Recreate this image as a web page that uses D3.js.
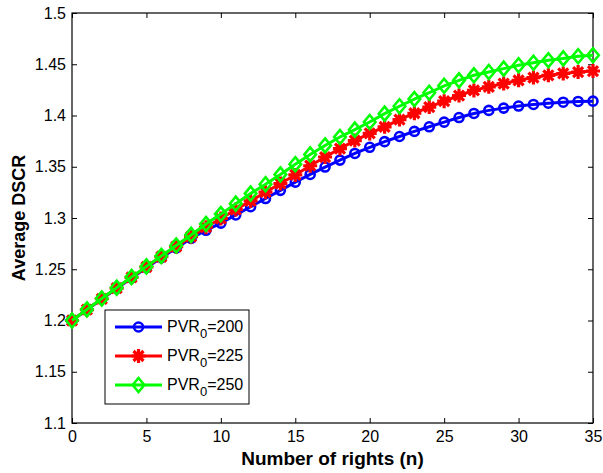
<!DOCTYPE html>
<html><head><meta charset="utf-8">
<script src="https://cdn.jsdelivr.net/npm/d3@7"></script>
<style>body{margin:0;background:#fff}svg{display:block}</style>
</head><body>
<script>
const nValues = d3.range(0, 36);
const pvr200 = [1.2000,1.2105,1.2210,1.2312,1.2415,1.2515,1.2612,1.2708,1.2800,1.2880,1.2950,1.3030,1.3110,1.3190,1.3270,1.3350,1.3425,1.3497,1.3565,1.3630,1.3690,1.3745,1.3795,1.3845,1.3890,1.3935,1.3980,1.4020,1.4050,1.4072,1.4092,1.4108,1.4120,1.4130,1.4137,1.4140];
const pvr225 = [1.2000,1.2106,1.2212,1.2316,1.2420,1.2522,1.2622,1.2720,1.2818,1.2910,1.2995,1.3082,1.3167,1.3252,1.3336,1.3420,1.3510,1.3595,1.3677,1.3755,1.3825,1.3890,1.3960,1.4022,1.4082,1.4140,1.4195,1.4245,1.4280,1.4312,1.4343,1.4370,1.4392,1.4410,1.4424,1.4434];
const pvr250 = [1.2000,1.2108,1.2215,1.2320,1.2425,1.2528,1.2630,1.2732,1.2835,1.2942,1.3038,1.3140,1.3238,1.3330,1.3425,1.3525,1.3620,1.3708,1.3790,1.3862,1.3937,1.4018,1.4090,1.4160,1.4222,1.4290,1.4343,1.4392,1.4424,1.4457,1.4490,1.4515,1.4539,1.4557,1.4578,1.4588];
const seriesNames = ["200","225","250"];
const seriesColors = ["#0000ff","#ff0000","#00ff00"];
const seriesMarkers = ["circle","star","diamond"];
const xTicks = [0,5,10,15,20,25,30,35];
const yTicks = [1.1,1.15,1.2,1.25,1.3,1.35,1.4,1.45,1.5];

const W = 603, H = 473;
const L = 72, R = 593, T = 13, B = 423;
const svg = d3.select("body").append("svg").attr("width", W).attr("height", H)
  .style("font-family", "'Liberation Sans', Arial, sans-serif");

const x = d3.scaleLinear().domain([0,35]).range([L,R]);
const y = d3.scaleLinear().domain([1.1,1.5]).range([B,T]);

const tickLen = 5;
const gx = svg.append("g").attr("transform", `translate(0,${B})`)
  .call(d3.axisBottom(x).tickValues(xTicks).tickSize(-tickLen).tickPadding(8).tickFormat(d3.format("d")));
const gxTop = svg.append("g").attr("transform", `translate(0,${T})`)
  .call(d3.axisTop(x).tickValues(xTicks).tickSize(-tickLen).tickFormat(""));
const gy = svg.append("g").attr("transform", `translate(${L},0)`)
  .call(d3.axisLeft(y).tickValues(yTicks).tickSize(-tickLen).tickPadding(6).tickFormat(d => String(+d.toFixed(2))));
const gyR = svg.append("g").attr("transform", `translate(${R},0)`)
  .call(d3.axisRight(y).tickValues(yTicks).tickSize(-tickLen).tickFormat(""));
[gx,gxTop,gy,gyR].forEach(g => {
  g.select(".domain").remove();
  g.selectAll("line").attr("stroke","#000").attr("stroke-width",1);
  g.selectAll("text").attr("fill","#000").style("font-size","16px");
});
svg.append("rect").attr("x",L).attr("y",T).attr("width",R-L).attr("height",B-T)
  .attr("fill","none").attr("stroke","#000").attr("stroke-width",1.2);

svg.append("text").attr("x",(L+R)/2).attr("y",465).attr("text-anchor","middle")
  .style("font-size","19px").style("font-weight","bold").text("Number of rights (n)");
svg.append("text").attr("transform",`translate(25,${(T+B)/2}) rotate(-90)`).attr("text-anchor","middle")
  .style("font-size","18px").style("font-weight","bold").text("Average DSCR");

function drawMarker(g, type, color) {
  if (type === "circle") {
    g.append("circle").attr("r",4.5).attr("fill","none").attr("stroke",color).attr("stroke-width",2.6);
  } else if (type === "star") {
    const s = 7, d = 5;
    g.append("path").attr("d",`M${-s},0L${s},0M0,${-s}L0,${s}M${-d},${-d}L${d},${d}M${-d},${d}L${d},${-d}`)
      .attr("stroke",color).attr("stroke-width",3.2).attr("fill","none");
    g.append("circle").attr("r",3.8).attr("fill",color);
  } else {
    g.append("path").attr("d","M0,-7L5.8,0L0,7L-5.8,0Z").attr("fill","none").attr("stroke",color).attr("stroke-width",2.6);
  }
}

const allSeries = [pvr200, pvr225, pvr250];
const line = d3.line().x((d,i) => x(nValues[i])).y(d => y(d));
allSeries.forEach((vals, si) => {
  const g = svg.append("g");
  g.append("path").datum(vals).attr("d", line).attr("fill","none")
    .attr("stroke", seriesColors[si]).attr("stroke-width",3);
  vals.forEach((v,i) => {
    const mg = g.append("g").attr("transform",`translate(${x(nValues[i])},${y(v)})`);
    drawMarker(mg, seriesMarkers[si], seriesColors[si]);
  });
});

const lg = svg.append("g");
lg.append("rect").attr("x",105).attr("y",310).attr("width",144).attr("height",94)
  .attr("fill","#fff").attr("stroke","#000").attr("stroke-width",1);
const rowY = [327, 356, 385];
seriesNames.forEach((nm, i) => {
  lg.append("line").attr("x1",115).attr("x2",162).attr("y1",rowY[i]).attr("y2",rowY[i])
    .attr("stroke",seriesColors[i]).attr("stroke-width",3);
  const mg = lg.append("g").attr("transform",`translate(138.5,${rowY[i]})`);
  drawMarker(mg, seriesMarkers[i], seriesColors[i]);
  const t = lg.append("text").attr("x",167).attr("y",rowY[i]+5).style("font-size","16px").attr("fill","#000");
  t.append("tspan").text("PVR");
  t.append("tspan").attr("dy",6).style("font-size","13px").text("0");
  t.append("tspan").attr("dy",-6).text("=" + nm);
});
</script>
</body></html>
